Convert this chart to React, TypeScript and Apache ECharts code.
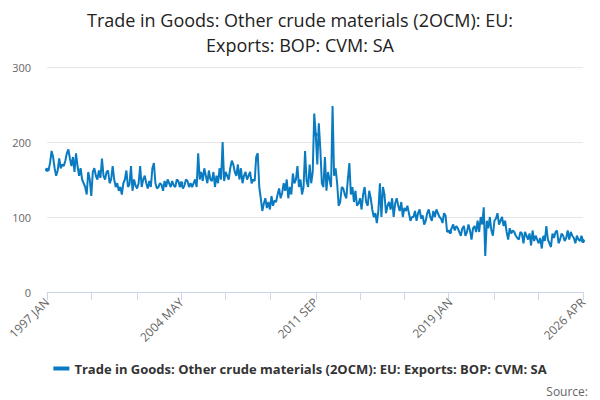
import React, { useEffect, useRef } from "react";
import * as echarts from "echarts";

const MONTHS = ["JAN","FEB","MAR","APR","MAY","JUN","JUL","AUG","SEP","OCT","NOV","DEC"];
const categories: string[] = [];
for (let y = 1997; y <= 2026; y++) for (let m = 0; m < 12; m++) { if (y === 2026 && m > 3) break; categories.push(`${y} ${MONTHS[m]}`); }

const values1997_2004 = [
  163,162,172,188,180,165,155,162,178,165,170,168,
  175,185,190,178,168,180,160,185,168,155,165,150,
  145,140,130,160,150,128,160,165,155,150,162,152,
  178,155,150,160,162,145,150,168,150,140,145,135,
  140,130,145,150,162,140,143,168,135,150,142,138,
  145,168,140,150,155,145,138,148,140,165,172,145,
  138,140,145,143,135,148,140,150,145,140,148,142,
  140,150,148,140,145,138,142,150,148,140,145,140,
];
const values2005_2012 = [
  145,150,140,185,150,160,148,165,155,145,162,150,
  148,160,140,155,145,165,150,200,148,160,155,150,
  165,175,170,160,155,170,150,165,145,155,160,150,
  155,160,145,150,148,180,185,140,125,108,118,125,
  112,120,110,128,115,122,120,130,138,125,132,145,
  135,150,125,140,130,158,145,150,168,140,150,130,
  140,188,148,140,170,145,160,238,210,170,225,190,
  145,140,180,135,160,150,140,248,155,165,145,115,
];
const values2013_2020 = [
  120,140,138,130,125,150,172,130,140,120,135,115,
  118,125,110,130,140,120,115,135,125,110,100,105,
  92,108,145,100,140,130,105,115,120,110,125,100,
  118,125,115,108,120,100,112,108,115,105,95,100,
  100,108,95,105,110,98,102,90,95,105,110,100,
  95,108,100,110,105,100,98,92,105,102,80,82,
  80,85,90,82,88,85,80,75,85,88,75,80,
  90,82,70,85,88,80,95,80,100,90,113,48,
];
const values2021_2026 = [
  95,85,100,82,75,95,98,105,90,95,100,88,
  95,80,70,85,78,82,80,75,72,70,80,78,
  65,80,75,70,78,62,82,68,75,70,65,72,
  58,75,68,88,70,65,60,78,72,80,82,65,
  70,78,75,68,72,82,70,80,75,72,65,75,
  70,68,75,68,
];
const values = [...values1997_2004, ...values2005_2012, ...values2013_2020, ...values2021_2026];
const labelIdx = [0, 88, 176, 264, 351];
const tickIdx = Array.from({ length: 13 }, (_, k) => Math.round((k * 351) / 12));
const seriesName = "Trade in Goods: Other crude materials (2OCM): EU: Exports: BOP: CVM: SA";

export default function App() {
  const ref = useRef<HTMLDivElement>(null);
  useEffect(() => {
    const chart = echarts.init(ref.current!, undefined, { renderer: "svg" });
    const font = "Open Sans";
    chart.setOption({
      animation: false,
      textStyle: { fontFamily: font },
      title: {
        text: "Trade in Goods: Other crude materials (2OCM): EU:\nExports: BOP: CVM: SA",
        left: "center", top: 2,
        textStyle: { fontSize: 18, fontWeight: "normal", color: "#222", lineHeight: 25, fontFamily: font },
      },
      grid: { left: 47, right: 17, top: 67, bottom: 108 },
      legend: {
        bottom: 20, left: "center", itemWidth: 16, itemHeight: 4,
        textStyle: { fontSize: 13, fontWeight: "bold", color: "#333", fontFamily: font },
        data: [{ name: seriesName, icon: "rect" }],
      },
      graphic: [{ type: "text", right: 12, bottom: 3, style: { text: "Source:", fontSize: 12, fill: "#666", fontFamily: font } }],
      xAxis: {
        type: "category", data: categories, boundaryGap: false,
        axisLine: { lineStyle: { color: "#ccd6eb" } },
        axisTick: { interval: (i: number) => tickIdx.includes(i), length: 8, lineStyle: { color: "#ccd6eb" } },
        axisLabel: { interval: (i: number) => labelIdx.includes(i), rotate: 45, color: "#666", fontSize: 12, fontFamily: font, showMaxLabel: true },
      },
      yAxis: {
        type: "value", min: 0, max: 300, interval: 100,
        axisLabel: { color: "#666", fontSize: 11, fontFamily: font, margin: 16 },
        splitLine: { lineStyle: { color: "#e6e6e6" } },
      },
      series: [{
        name: seriesName,
        type: "line", data: values, color: "#0a7bc1",
        lineStyle: { width: 2 }, symbol: "circle", symbolSize: 4, showSymbol: true,
      }],
    });
    return () => chart.dispose();
  }, []);
  return <div ref={ref} style={{ position: "absolute", left: 0, top: 0, width: 600, height: 400 }} />;
}
